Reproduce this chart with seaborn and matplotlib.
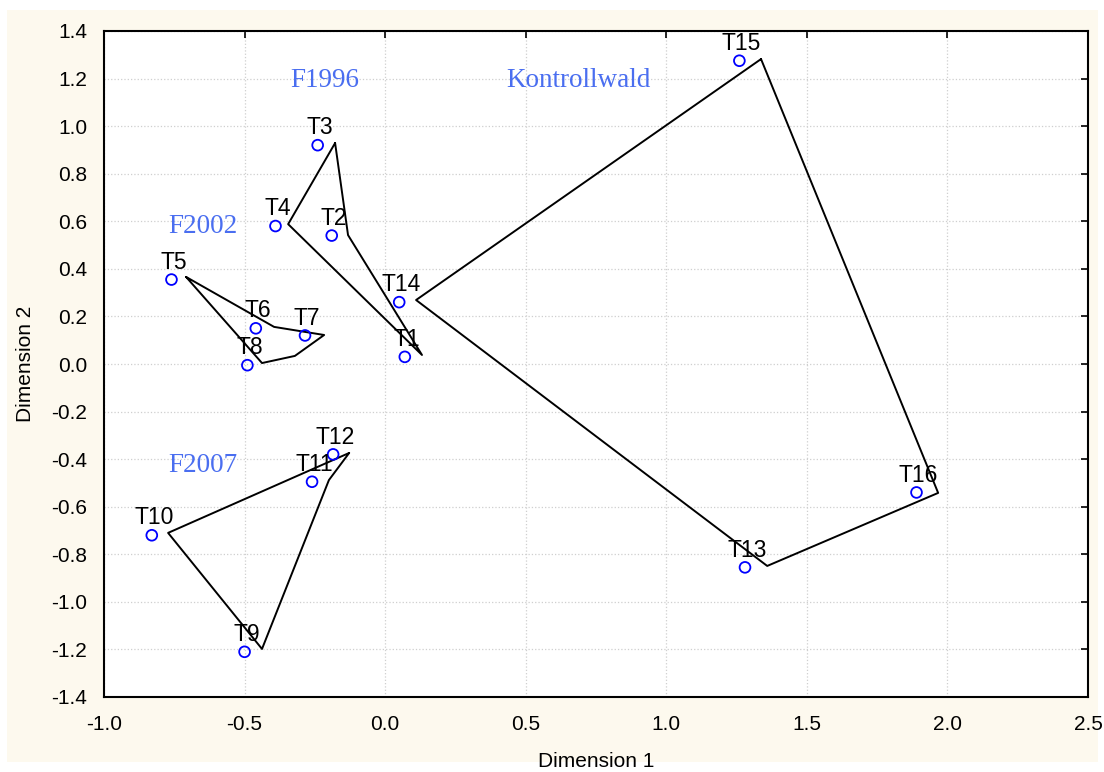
import matplotlib
matplotlib.use("Agg")
import matplotlib.pyplot as plt
import matplotlib.patches as mpatches
import seaborn as sns
import pandas as pd

# Punkte (MDS-Koordinaten)
names = ['T1', 'T2', 'T3', 'T4', 'T5', 'T6', 'T7', 'T8',
         'T9', 'T10', 'T11', 'T12', 'T13', 'T14', 'T15', 'T16']
dim1 = [0.07, -0.19, -0.24, -0.39, -0.76, -0.46, -0.285, -0.49,
        -0.50, -0.83, -0.26, -0.185, 1.28, 0.05, 1.26, 1.89]
dim2 = [0.03, 0.54, 0.92, 0.58, 0.355, 0.15, 0.12, -0.005,
        -1.21, -0.72, -0.495, -0.38, -0.855, 0.26, 1.275, -0.54]

# Umrisse der Gruppen
f1996_x = [-0.178, -0.132, 0.131, -0.345]
f1996_y = [0.929, 0.542, 0.038, 0.588]
f2002_x = [-0.708, -0.395, -0.217, -0.321, -0.438]
f2002_y = [0.366, 0.156, 0.122, 0.034, 0.004]
f2007_x = [-0.128, -0.200, -0.438, -0.772]
f2007_y = [-0.374, -0.488, -1.198, -0.710]
kontroll_x = [1.337, 1.967, 1.359, 0.110]
kontroll_y = [1.282, -0.542, -0.849, 0.269]

group_names = ['F1996', 'Kontrollwald', 'F2002', 'F2007']
group_x = [-0.215, 0.686, -0.648, -0.648]
group_y = [1.19, 1.19, 0.58, -0.425]

x_ticks = [-1.0, -0.5, 0.0, 0.5, 1.0, 1.5, 2.0, 2.5]
y_ticks = [-1.4, -1.2, -1.0, -0.8, -0.6, -0.4, -0.2, 0.0,
           0.2, 0.4, 0.6, 0.8, 1.0, 1.2, 1.4]

df = pd.DataFrame({'Dimension 1': dim1, 'Dimension 2': dim2, 'name': names})

sns.set_style("white")
plt.rcParams['font.family'] = ['Liberation Sans', 'DejaVu Sans']

fig = plt.figure(figsize=(11.04, 7.72), dpi=100)
fig.patch.set_facecolor('white')
# cremefarbener Hintergrund
fig.patches.append(mpatches.Rectangle((7 / 1104, 10 / 772), (1098 - 7) / 1104, (762 - 10) / 772,
                                      transform=fig.transFigure, facecolor='#fdf9ee',
                                      edgecolor='none', zorder=-10))
ax = fig.add_axes([104 / 1104, 1 - 697 / 772, (1088 - 104) / 1104, (697 - 31) / 772])
ax.set_facecolor('white')

for xs, ys in [(f1996_x, f1996_y), (f2002_x, f2002_y), (f2007_x, f2007_y), (kontroll_x, kontroll_y)]:
    ax.plot(xs + xs[:1], ys + ys[:1], color='black', lw=1.4, zorder=2)

sns.scatterplot(data=df, x='Dimension 1', y='Dimension 2', ax=ax, marker='o',
                facecolor='none', edgecolor='#0000ff', linewidth=1.3, s=60, zorder=3)

for n, x, y in zip(names, dim1, dim2):
    ax.annotate(n, (x, y), xytext=(1.5, 12.5), textcoords='offset points',
                ha='center', va='center', fontsize=16.5, color='black', zorder=4)

for n, x, y in zip(group_names, group_x, group_y):
    ax.text(x, y, n, ha='center', va='center', fontsize=19.5, color='#4a6ef0',
            family=['Liberation Serif', 'DejaVu Serif'])

ax.set_xlim(-1.0, 2.5)
ax.set_ylim(-1.4, 1.4)
ax.set_xticks(x_ticks)
ax.set_yticks(y_ticks)
ax.set_xticklabels([f'{v:.1f}' for v in x_ticks])
ax.set_yticklabels([f'{v:.1f}' for v in y_ticks])
ax.tick_params(direction='in', length=5, width=1.2, top=True, right=True,
               labelsize=15, colors='black')
ax.tick_params(axis='x', pad=13)
ax.tick_params(axis='y', pad=12)
ax.grid(True, linestyle=':', color='#cfcfcf', linewidth=0.9)
for s in ax.spines.values():
    s.set_visible(True)
    s.set_color('black')
    s.set_linewidth(1.5)

ax.set_xlabel('Dimension 1', fontsize=15, labelpad=13, color='black')
ax.set_ylabel('Dimension 2', fontsize=15, labelpad=12, color='black')

fig.savefig('out.png', dpi=100, facecolor=fig.get_facecolor())
